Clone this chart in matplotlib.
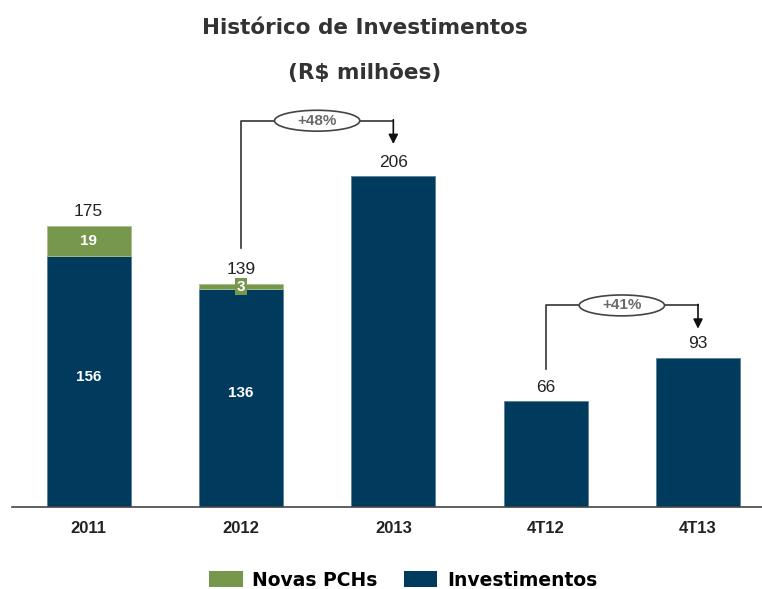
import matplotlib.pyplot as plt
from matplotlib.patches import Ellipse, Patch

categories = ['2011', '2012', '2013', '4T12', '4T13']
investimentos = [156, 136, 206, 66, 93]
novas_pchs = [19, 3, 0, 0, 0]
totais = [175, 139, 206, 66, 93]

navy = '#003a5d'
green = '#76974c'

fig = plt.figure(figsize=(7.62, 5.89), dpi=100)
ax = fig.add_axes([12 / 762, 1 - 507 / 589, 750 / 762, 407 / 589])

x = list(range(len(categories)))
ax.bar(x, investimentos, width=0.55, color=navy, edgecolor='#5b7f99', linewidth=0.6)
# only the years that had Novas PCHs
xg = [xi for xi, v in zip(x, novas_pchs) if v > 0]
ax.bar(xg, [novas_pchs[i] for i in xg], width=0.55, bottom=[investimentos[i] for i in xg],
       color=green, edgecolor='#a9c08a', linewidth=0.6)

ax.set_xlim(-0.503, 4.42)
ax.set_ylim(0, 253.4)

for spine in ['top', 'right', 'left']:
    ax.spines[spine].set_visible(False)
ax.spines['bottom'].set_color('#444444')
ax.spines['bottom'].set_linewidth(1.2)
ax.set_yticks([])
ax.set_xticks(x)
ax.set_xticklabels(categories, fontsize=12, fontweight='bold', family='Liberation Sans',
                   color='#222222')
ax.tick_params(axis='x', length=0, pad=10)

# totals above bars
for xi, t in zip(x, totais):
    ax.text(xi, t + 4, str(t), ha='center', va='bottom', fontsize=12.5,
            family='Liberation Sans', color='#222222')

# values inside bars
for xi, v in zip(x[:2], investimentos[:2]):
    ax.text(xi, v * 0.5 + 3, str(v), ha='center', va='center', fontsize=11,
            fontweight='bold', family='Liberation Sans', color='white')
ax.text(0, investimentos[0] + novas_pchs[0] / 2, str(novas_pchs[0]), ha='center', va='center',
        fontsize=11, fontweight='bold', family='Liberation Sans', color='white')
ax.text(1, investimentos[1] + novas_pchs[1] / 2 - 0.5, str(novas_pchs[1]), ha='center',
        va='center', fontsize=11, fontweight='bold', family='Liberation Sans', color='white',
        bbox=dict(boxstyle='square,pad=0.1', fc=green, ec='none'))


def bracket(x0, x1, y_start, y_top, y_end, label):
    xm = (x0 + x1) / 2
    ax.plot([x0, x0, x1], [y_start, y_top, y_top], color='#333333', lw=1.2)
    ax.annotate('', xy=(x1, y_end), xytext=(x1, y_top + 0.6),
                arrowprops=dict(arrowstyle='-|>', color='#111111', lw=1.2,
                                mutation_scale=14, shrinkA=0, shrinkB=0))
    ax.add_patch(Ellipse((xm, y_top), 0.56, 13, fc='white', ec='#444444', lw=1.2, zorder=3))
    ax.text(xm, y_top, label, ha='center', va='center', fontsize=11, fontweight='bold',
            family='Liberation Sans', color='#6a6a6a', zorder=4)


bracket(1, 2, 161, 240.5, 226, '+48%')
bracket(3, 4, 86, 125.5, 111, '+41%')

fig.text(365 / 762, 1 - 28 / 589, 'Histórico de Investimentos', ha='center', va='center',
         fontsize=15.5, fontweight='bold', color='#333333')
fig.text(365 / 762, 1 - 73 / 589, '(R$ milhões)', ha='center', va='center',
         fontsize=15.5, fontweight='bold', color='#333333')

handles = [Patch(fc=green, ec='none', label='Novas PCHs'),
           Patch(fc=navy, ec='none', label='Investimentos')]
fig.legend(handles=handles, loc='center', bbox_to_anchor=(403 / 762, 1 - 580 / 589), ncol=2,
           frameon=False, prop={'family': 'DejaVu Sans', 'weight': 'bold', 'size': 13.5},
           handlelength=1.8, handleheight=0.9, columnspacing=1.4, handletextpad=0.5)

fig.savefig('out.png', dpi=100, facecolor='white')
